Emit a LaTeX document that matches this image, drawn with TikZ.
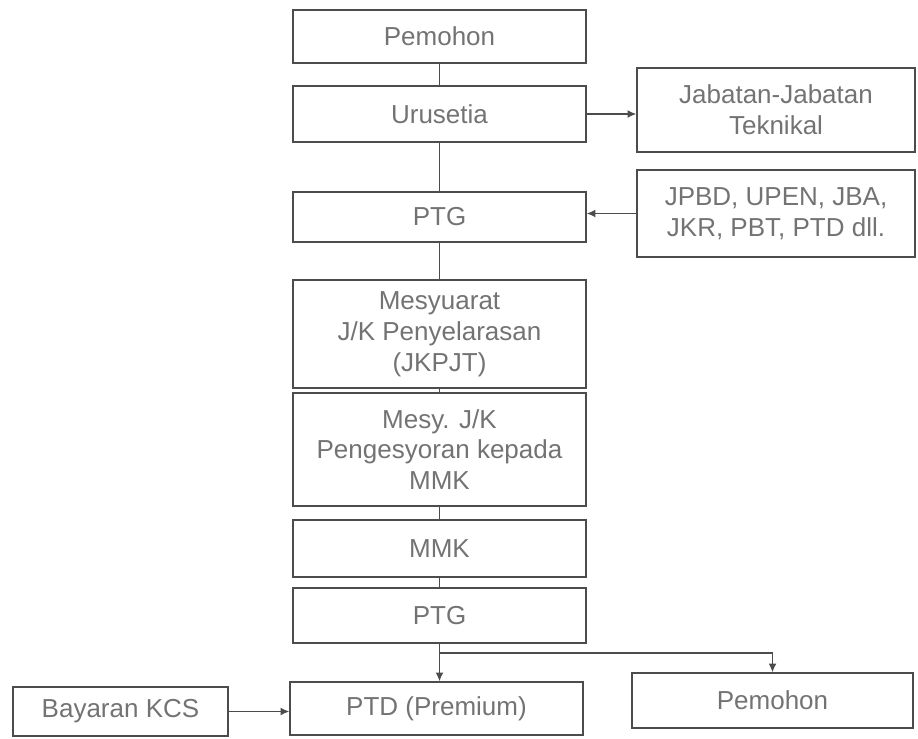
\documentclass[tikz,border=0pt]{standalone}
\usepackage{fontspec}
\setmainfont{Liberation Sans}
\usetikzlibrary{positioning, arrows.meta}

\tikzset{
    flowbox/.style={draw=black!70, line width=0.8pt, text=black!55, align=center,
        inner sep=0pt, font=\fontsize{14.8pt}{17.6pt}\selectfont},
    link/.style={draw=black!70, line width=0.8pt},
    linkarrow/.style={link, -{Latex[length=5pt,width=4.5pt]}},
}

\begin{document}
\begin{tikzpicture}[x=0.02cm, y=-0.02cm]
        \useasboundingbox (0,0) rectangle (918,739);

        % main column
        \node[flowbox, minimum width=5.86cm, minimum height=1.06cm] (pemohon) at (439.5,36.5) {Pemohon};
        \node[flowbox, minimum width=5.86cm, minimum height=1.12cm] (urusetia) at (439.5,114) {Urusetia};
        \node[flowbox, minimum width=5.86cm, minimum height=1.00cm] (ptga) at (439.5,217) {PTG};
        \node[flowbox, minimum width=5.86cm, minimum height=2.16cm] (mesyuarat) at (439.5,334) {Mesyuarat\\J/K Penyelarasan\\(JKPJT)};
        \node[flowbox, minimum width=5.86cm, minimum height=2.26cm] (mesyjk) at (439.5,449.5) {Mesy. J/K\\Pengesyoran kepada\\MMK};
        \node[flowbox, minimum width=5.86cm, minimum height=1.14cm] (mmk) at (439.5,548.5) {MMK};
        \node[flowbox, minimum width=5.86cm, minimum height=1.10cm] (ptgb) at (439.5,615.5) {PTG};

        % side boxes
        \node[flowbox, minimum width=5.56cm, minimum height=1.68cm] (jabatan) at (776,110) {Jabatan-Jabatan\\Teknikal};
        \node[flowbox, minimum width=5.56cm, minimum height=1.74cm] (jpbd) at (776,213.5) {JPBD, UPEN, JBA,\\JKR, PBT, PTD dll.};

        % bottom row
        \node[flowbox, minimum width=5.86cm, minimum height=1.06cm] (ptd) at (436.5,708.5) {PTD (Premium)};
        \node[flowbox, minimum width=4.30cm, minimum height=0.98cm] (bayaran) at (120.5,711.5) {Bayaran KCS};
        \node[flowbox, minimum width=5.62cm, minimum height=1.10cm] (pemohonb) at (772.5,700.5) {Pemohon};

        % connectors
        \draw[link] (pemohon) -- (urusetia);
        \draw[link] (urusetia) -- (ptga);
        \draw[link] (ptga) -- (mesyuarat);
        \draw[link] (mesyuarat) -- (mesyjk);
        \draw[link] (mesyjk) -- (mmk);
        \draw[link] (mmk) -- (ptgb);
        \draw[linkarrow] (urusetia.east) -- (jabatan.west |- urusetia.east);
        \draw[linkarrow] (jpbd.west) -- (ptga.east |- jpbd.west);
        \draw[linkarrow] (bayaran.east) -- (ptd.west |- bayaran.east);

        \coordinate (split) at (439.5,653);
        \draw[link] (ptgb) -- (split);
        \draw[linkarrow] (split) -- (split |- ptd.north);
        \draw[linkarrow] (split) -| (pemohonb.north);
    \end{tikzpicture}
\end{document}
